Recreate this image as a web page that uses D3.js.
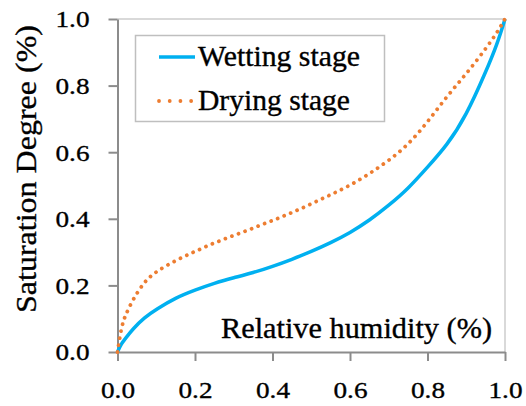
<!DOCTYPE html>
<html>
<head>
<meta charset="utf-8">
<script src="https://cdn.jsdelivr.net/npm/d3@7"></script>
<style>
    html, body { margin: 0; padding: 0; background: #fff; }
    svg { display: block; }
</style>
</head>
<body>
<svg id="chart" width="526" height="406"></svg>
<script>
"use strict";

// relative humidity (x) and saturation degree of both stages
var humidity = [0, 0.01, 0.02, 0.04, 0.07, 0.1, 0.15, 0.2, 0.25, 0.3, 0.35, 0.4, 0.45, 0.5,
    0.55, 0.6, 0.65, 0.7, 0.75, 0.8, 0.85, 0.9, 0.95, 0.98, 1.0];
var wetting = [0, 0.025, 0.04, 0.07, 0.104, 0.128, 0.163, 0.186, 0.207, 0.223, 0.238, 0.257, 0.278, 0.302,
    0.328, 0.358, 0.395, 0.44, 0.49, 0.555, 0.62, 0.71, 0.84, 0.925, 1.0];
var drying = [0, 0.075, 0.11, 0.158, 0.213, 0.242, 0.275, 0.302, 0.328, 0.35, 0.372, 0.395, 0.418, 0.445,
    0.472, 0.5, 0.535, 0.575, 0.622, 0.69, 0.768, 0.835, 0.91, 0.96, 1.0];

var seriesNames = ['Wetting stage', 'Drying stage'];
var tickValues = [0, 0.2, 0.4, 0.6, 0.8, 1.0];
var xTitle = 'Relative humidity (%)';
var yTitle = 'Saturation Degree (%)';

var BLUE = '#00b0f0';
var ORANGE = '#ed7d31';
var AXIS = '#8c8c8c';
var FONT = "'Liberation Serif'";

var svg = d3.select('#chart');

var plot = { left: 117.5, right: 505, top: 19, bottom: 352 };

var x = d3.scaleLinear().domain([0, 1]).range([plot.left, plot.right]);
var y = d3.scaleLinear().domain([0, 1]).range([plot.bottom, plot.top]);

/**
 * Serif text, slightly thickened to get closer to the heavier original face
 */
function label(sel, size) {
    return sel
        .attr('font-family', FONT)
        .attr('font-size', size)
        .attr('fill', '#000')
        .attr('stroke', '#000')
        .attr('stroke-width', 0.35)
        .attr('lengthAdjust', 'spacingAndGlyphs');
}

// light frame on top and right
svg.append('path')
    .attr('d', 'M' + plot.left + ',' + plot.top + 'H' + plot.right + 'V' + plot.bottom)
    .attr('fill', 'none')
    .attr('stroke', '#d9d9d9')
    .attr('stroke-width', 2);

var xAxis = svg.append('g')
    .attr('transform', 'translate(0,' + plot.bottom + ')')
    .call(d3.axisBottom(x).tickValues(tickValues).tickFormat(d3.format('.1f'))
        .tickSize(9).tickSizeOuter(0).tickPadding(20));

var yAxis = svg.append('g')
    .attr('transform', 'translate(' + plot.left + ',0)')
    .call(d3.axisLeft(y).tickValues(tickValues).tickFormat(d3.format('.1f'))
        .tickSize(9).tickSizeOuter(0).tickPadding(19));

[xAxis, yAxis].forEach(function(axis) {
    axis.attr('font-family', FONT).attr('font-size', 24);
    axis.selectAll('.domain, .tick line')
        .attr('stroke', AXIS)
        .attr('stroke-width', 2);
    // digits are a bit wider in the original face, stretch them to fit
    axis.selectAll('.tick text')
        .call(label, 24)
        .attr('textLength', 34);
});
yAxis.selectAll('.tick text').attr('dy', '0.33em');

// curves
var line = d3.line()
    .x(function(d) { return x(d[0]); })
    .y(function(d) { return y(d[1]); })
    .curve(d3.curveBasis);

svg.append('path')
    .datum(d3.zip(humidity, wetting))
    .attr('d', line)
    .attr('fill', 'none')
    .attr('stroke', BLUE)
    .attr('stroke-width', 3.5);

svg.append('path')
    .datum(d3.zip(humidity, drying))
    .attr('d', line)
    .attr('fill', 'none')
    .attr('stroke', ORANGE)
    .attr('stroke-width', 3.8)
    .attr('stroke-linecap', 'round')
    .attr('stroke-dasharray', '0.01 7');

// axis titles
svg.append('text')
    .attr('x', 221)
    .attr('y', 338)
    .call(label, 29)
    .attr('textLength', 271)
    .text(xTitle);

svg.append('text')
    .attr('transform', 'translate(36,313) rotate(-90)')
    .call(label, 29)
    .attr('textLength', 288)
    .text(yTitle);

// legend
var legend = svg.append('g');

legend.append('rect')
    .attr('x', 135.5)
    .attr('y', 35.5)
    .attr('width', 249)
    .attr('height', 86)
    .attr('fill', '#fff')
    .attr('stroke', '#bfbfbf')
    .attr('stroke-width', 1.5);

var legendRows = [
    { name: seriesNames[0], color: BLUE, y: 57, base: 66, width: 162, dash: null },
    { name: seriesNames[1], color: ORANGE, y: 101, base: 110, width: 152, dash: '0.01 10.7' }
];

legendRows.forEach(function(row) {
    var sample = legend.append('line')
        .attr('x1', 159)
        .attr('x2', row.dash ? 192 : 195)
        .attr('y1', row.y)
        .attr('y2', row.y)
        .attr('stroke', row.color);

    if (row.dash) {
        sample.attr('stroke-width', 3.8)
            .attr('stroke-linecap', 'round')
            .attr('stroke-dasharray', row.dash);
    } else {
        sample.attr('stroke-width', 3.5);
    }

    legend.append('text')
        .attr('x', 198)
        .attr('y', row.base)
        .call(label, 29)
        .attr('textLength', row.width)
        .text(row.name);
});
</script>
</body>
</html>
